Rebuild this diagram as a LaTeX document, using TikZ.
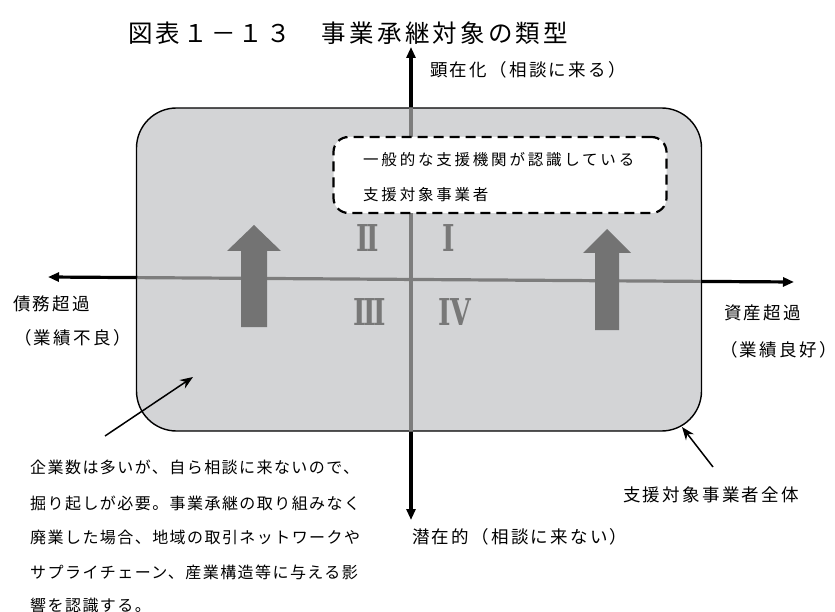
\documentclass[tikz,border=0pt]{standalone}
\usepackage{fontspec}
\usepackage{graphicx}
\usetikzlibrary{arrows.meta}
\newfontfamily\jpA[LetterSpace=13]{Noto Sans CJK JP}
\newfontfamily\jpB[LetterSpace=18]{Noto Sans CJK JP}
\newfontfamily\jpC[LetterSpace=9]{Noto Sans CJK JP}
\newfontfamily\romfont{DejaVu Serif}
\definecolor{boxfill}{RGB}{211,212,214}
\definecolor{axisgray}{RGB}{125,125,125}
\definecolor{bigarrow}{RGB}{115,115,115}
\definecolor{numgray}{RGB}{120,120,120}
\tikzset{
  lbl/.style={inner sep=0pt, anchor=west, font=\jpA\fontsize{17.5}{20}\selectfont},
  boxtxt/.style={inner sep=0pt, anchor=west, font=\jpB\fontsize{15.5}{18}\selectfont},
  bottxt/.style={inner sep=0pt, anchor=west, font=\jpC\fontsize{16}{18}\selectfont},
  roman/.style={inner sep=0pt, text=numgray, font=\romfont\bfseries\fontsize{37}{37}\selectfont},
  axisline/.style={line width=3.2pt, black},
  axisgrayline/.style={line width=3.2pt, axisgray},
  axishead/.style={-{Triangle[length=11pt,width=9pt]}},
  pointer/.style={line width=1.5pt, -{Stealth[length=13pt,width=10pt]}},
  bigarr/.style={fill=bigarrow, draw=none}
}
\begin{document}
\begin{tikzpicture}[x=1pt,y=-1pt]
\useasboundingbox (0,0) rectangle (835,612);
% main box
\node[draw=black, line width=1.4pt, fill=boxfill, rounded corners=40pt,
      minimum width=565pt, minimum height=323pt, inner sep=0pt] (box) at (419,269.5) {};
% axes (black full length)
\coordinate (vt) at (411,47);
\coordinate (vb) at (411,520);
\coordinate (hl) at (48,277);
\coordinate (hr) at (794,282);
\draw[axisline, axishead] (box.north -| vt) -- (vt);
\draw[axisline, axishead] (box.south -| vb) -- (vb);
\draw[axisline, axishead] (137.5,277.6) -- (hl);
\draw[axisline, axishead] (700.5,281.4) -- (hr);
\draw[axisgrayline] (411,108.5) -- (411,430.5);
\draw[axisgrayline] (137.5,277.6) -- (700.5,281.4);
% dashed box
\node[draw=black, fill=white, line width=2.2pt, dash pattern=on 10pt off 6pt,
      rounded corners=15pt, minimum width=333pt, minimum height=76pt, inner sep=0pt]
      (dbox) at (500,175) {};
\node[boxtxt] (d1) at (363,160) {一般的な支援機関が認識している};
\node[boxtxt] (d2) at (363,195) {支援対象事業者};
% big arrows
\fill[bigarr] (254,225) -- (281,251) -- (267,251) -- (267,327) -- (241,327) -- (241,251) -- (227,251) -- cycle;
\fill[bigarr] (607,229) -- (631,253) -- (619,253) -- (619,330) -- (595,330) -- (595,253) -- (583,253) -- cycle;
% roman numerals
\node[roman] (n2) at (368,238) {\scalebox{0.72}[1]{I\kern-0.1em I}};
\node[roman] (n1) at (449,238) {\scalebox{0.72}[1]{I}};
\node[roman] (n3) at (370,312) {\scalebox{0.72}[1]{I\kern-0.1em I\kern-0.1em I}};
\node[roman] (n4) at (455,312) {\scalebox{0.72}[1]{IV}};
% title
\node[inner sep=0pt, anchor=west, font=\jpA\fontsize{24.5}{28}\selectfont] (title) at (128,33) {図表１－１３　事業承継対象の類型};
% axis labels
\node[lbl] (top) at (430,70) {顕在化（相談に来る）};
\node[lbl] (bot) at (412,537) {潜在的（相談に来ない）};
\node[lbl] (l1) at (13,304) {債務超過};
\node[lbl] (l2) at (14,338) {（業績不良）};
\node[lbl] (r1) at (724,313) {資産超過};
\node[lbl] (r2) at (720,350) {（業績良好）};
\node[lbl] (all) at (623,495) {支援対象事業者全体};
% bottom text
\node[bottxt] (b1) at (30,467) {企業数は多いが、自ら相談に来ないので、};
\node[bottxt] (b2) at (30,503) {掘り起しが必要。事業承継の取り組みなく};
\node[bottxt] (b3) at (30,537) {廃業した場合、地域の取引ネットワークや};
\node[bottxt] (b4) at (30,572) {サプライチェーン、産業構造等に与える影};
\node[bottxt] (b5) at (30,605) {響を認識する。};
% pointers
\coordinate (p1s) at (105,436);
\coordinate (p1e) at (193,377);
\coordinate (p2s) at (713,467);
\coordinate (p2e) at (682,427);
\draw[pointer] (p1s) -- (p1e);
\draw[pointer] (p2s) -- (p2e);
\end{tikzpicture}
\end{document}
